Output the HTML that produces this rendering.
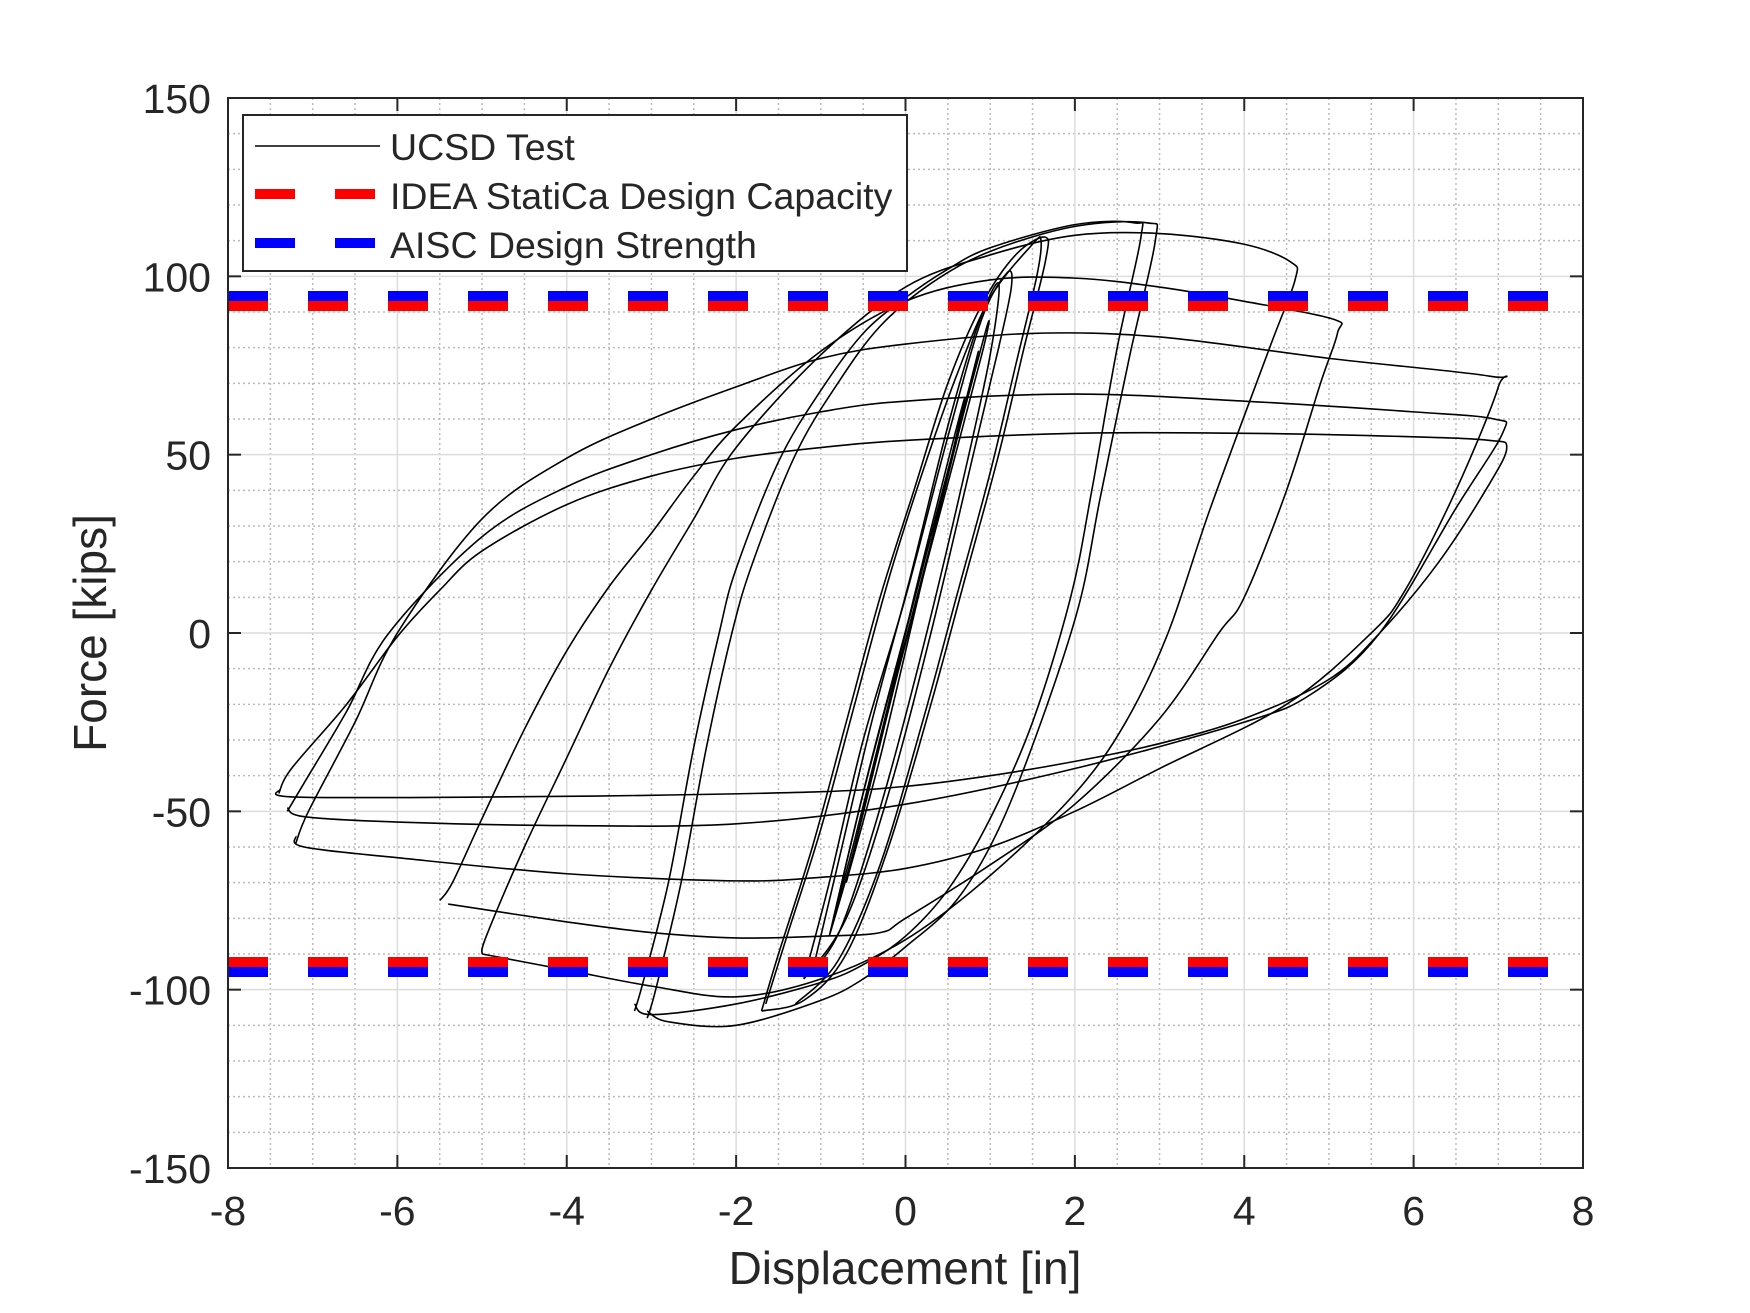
<!DOCTYPE html>
<html><head><meta charset="utf-8"><style>
html,body{margin:0;padding:0;background:#fff;}
svg{display:block;}
text{font-family:"Liberation Sans",Arial,sans-serif;fill:#262626;}
</style></head><body>
<svg id="s" width="1750" height="1313" viewBox="0 0 1750 1313" xmlns="http://www.w3.org/2000/svg">
<rect width="1750" height="1313" fill="#fff"/>
<g id="grid"></g>
<g id="data" fill="none" stroke="#000" stroke-width="1.6" stroke-linejoin="round"></g>
<g id="dash"></g>
<rect x="228" y="98" width="1355" height="1070" fill="none" stroke="#262626" stroke-width="2"/>
<g id="ticks"></g>
<g id="labels" font-size="41"></g>
<text x="905" y="1284" font-size="46" text-anchor="middle">Displacement [in]</text>
<text transform="translate(106,633) rotate(-90)" font-size="46" text-anchor="middle">Force [kips]</text>
<g>
<rect x="243" y="115" width="664" height="156" fill="#fff" stroke="#262626" stroke-width="2"/>
<line x1="255" y1="146" x2="380" y2="146" stroke="#000" stroke-width="1.6"/>
<rect x="255" y="189" width="40" height="10" fill="#f00"/><rect x="335" y="189" width="40" height="10" fill="#f00"/>
<rect x="255" y="238" width="40" height="10" fill="#00f"/><rect x="335" y="238" width="40" height="10" fill="#00f"/>
<text x="390" y="160" font-size="37.5">UCSD Test</text>
<text x="390" y="209" font-size="37.5">IDEA StatiCa Design Capacity</text>
<text x="390" y="258" font-size="37.5">AISC Design Strength</text>
</g>
</svg>
<script>
var NS="http://www.w3.org/2000/svg";
function el(p,t,a){var e=document.createElementNS(NS,t);for(var k in a)e.setAttribute(k,a[k]);p.appendChild(e);return e;}
var L=228,R=1583,T=98,B=1168;
function X(x){return 905.5+x*84.6875;}
function Y(y){return 633-y*3.5667;}
var g=document.getElementById('grid');
for(var x=-8;x<=8;x+=0.5){if(x%2!==0)el(g,'line',{x1:X(x),x2:X(x),y1:T,y2:B,stroke:'#bbb','stroke-width':1.5,'stroke-dasharray':'2 3'});}
for(var y=-150;y<=150;y+=10){if(y%50!==0)el(g,'line',{x1:L,x2:R,y1:Y(y),y2:Y(y),stroke:'#bbb','stroke-width':1.5,'stroke-dasharray':'2 3'});}
for(var x=-8;x<=8;x+=2)el(g,'line',{x1:X(x),x2:X(x),y1:T,y2:B,stroke:'#dcdcdc','stroke-width':1.5});
for(var y=-150;y<=150;y+=50)el(g,'line',{x1:L,x2:R,y1:Y(y),y2:Y(y),stroke:'#dcdcdc','stroke-width':1.5});
var tk=document.getElementById('ticks'),lb=document.getElementById('labels');
for(var x=-8;x<=8;x+=2){el(tk,'line',{x1:X(x),x2:X(x),y1:B,y2:B-13,stroke:'#262626','stroke-width':2});el(tk,'line',{x1:X(x),x2:X(x),y1:T,y2:T+13,stroke:'#262626','stroke-width':2});
var t=el(lb,'text',{x:X(x),y:1225,'text-anchor':'middle'});t.textContent=x;}
for(var y=-150;y<=150;y+=50){el(tk,'line',{x1:L,x2:L+13,y1:Y(y),y2:Y(y),stroke:'#262626','stroke-width':2});el(tk,'line',{x1:R,x2:R-13,y1:Y(y),y2:Y(y),stroke:'#262626','stroke-width':2});
var t=el(lb,'text',{x:211,y:Y(y)+15,'text-anchor':'end'});t.textContent=y;}
var d=document.getElementById('dash');
for(var x=228;x<1583;x+=80){var w=Math.min(40,1583-x);
el(d,'rect',{x:x,y:291,width:w,height:10,fill:'#00f'});el(d,'rect',{x:x,y:301,width:w,height:10,fill:'#f00'});
el(d,'rect',{x:x,y:957,width:w,height:10,fill:'#f00'});el(d,'rect',{x:x,y:967,width:w,height:10,fill:'#00f'});}
function path(pts){var p=pts.map(function(a){return [X(a[0]),Y(a[1])];});var s='M'+p[0][0]+','+p[0][1];
for(var i=0;i<p.length-1;i++){var p0=p[i-1]||p[i],p1=p[i],p2=p[i+1],p3=p[i+2]||p2;
s+=' C'+(p1[0]+(p2[0]-p0[0])/6)+','+(p1[1]+(p2[1]-p0[1])/6)+' '+(p2[0]-(p3[0]-p1[0])/6)+','+(p2[1]-(p3[1]-p1[1])/6)+' '+p2[0]+','+p2[1];}
el(document.getElementById('data'),'path',{d:s});}
var loops=[
[[-7.4,-45],[-7.25,-38],[-6.6,-20],[-6,-1],[-5.5,12],[-5,23],[-4,36],[-3,44],[-2,49],[-1,52],[0,54],[2,56],[4,56],[6,55],[6.9,54],[7.1,52],[6.9,42],[6.3,20],[5.6,0],[5,-13],[4,-24],[3,-31],[2,-36],[1,-40],[0,-43],[-1,-44.5],[-3,-45.5],[-5,-46],[-7.2,-46],[-7.4,-44]],
[[-7.3,-50],[-7.1,-42],[-6.6,-22],[-6.1,0],[-5,27],[-4,41],[-3,50],[-2,57],[-1,62],[0,65],[2,67],[4,65],[6,62],[6.95,60],[7.05,56],[6.5,35],[5.6,0],[4.8,-17],[4,-25],[2,-38],[0,-48],[-2,-53.5],[-4,-54],[-6,-53],[-7.1,-51.5],[-7.3,-49]],
[[-7.2,-59],[-7.05,-50],[-6.5,-25],[-6,0],[-5,32],[-4,49],[-3,60],[-2,69],[-1,77],[0,81],[1.5,84],[3,83],[5,77],[6.9,72],[7,69],[6.5,40],[5.9,12],[5.5,0],[4.5,-20],[3,-38],[2,-50],[1,-60],[0,-66],[-1,-68.5],[-2,-69.5],[-4,-67.5],[-6,-63],[-7.1,-60],[-7.2,-57]],
[[-5.5,-75],[-5.35,-70],[-5,-52],[-4.5,-27],[-4,-5],[-3.5,13],[-3,28],[-2.5,44],[-2,58],[-1,79],[0,93],[1,99],[2,99.5],[3,97],[4,93],[5.05,88],[5.1,84],[4.9,70],[4.5,40],[4,10],[3.7,0],[3,-24],[2,-48],[1,-65],[0,-80],[-0.3,-84],[-1,-85],[-2,-85.5],[-3,-84],[-4,-81],[-5.4,-76]],
[[-5,-90],[-4.95,-85],[-4.5,-60],[-4,-35],[-3.5,-10],[-3,12],[-2.5,32],[-2,52],[-1,78],[0,97],[1,106],[2,111.5],[3,112],[4,109],[4.55,104],[4.6,99],[4.3,80],[3.6,35],[3.1,0],[2.6,-25],[2,-45],[1,-68],[0,-86],[-1,-97],[-2,-102],[-3,-99],[-4,-94.5],[-5,-90]],
[[-3.2,-106],[-3.1,-98],[-2.8,-70],[-2.5,-32],[-2.2,0],[-2,18],[-1.5,48],[-1,68],[-0.5,84],[0,94],[0.5,102],[1,108],[2,114.5],[2.7,115],[2.78,111],[2.5,80],[2.2,40],[1.95,10],[1.5,-25],[1,-52],[0.5,-72],[0,-85],[-0.5,-93],[-1,-98],[-2,-104],[-3,-107],[-3.2,-104]],
[[-3.05,-108],[-2.95,-100],[-2.65,-70],[-2.35,-32],[-2.05,0],[-1.8,20],[-1.3,50],[-0.8,70],[-0.3,86],[0.3,98],[1,107],[2,114],[2.85,115],[2.95,110],[2.65,78],[2.3,38],[2.05,8],[1.6,-25],[1.1,-55],[0.6,-75],[0,-88],[-0.5,-97],[-1,-103],[-2,-110],[-2.8,-109],[-3.05,-106]],
[[-1.7,-106],[-1.5,-90],[-1.1,-60],[-0.7,-25],[-0.3,10],[0.1,40],[0.5,70],[0.9,92],[1.3,106],[1.65,111],[1.65,104],[1.4,80],[1.1,50],[0.7,15],[0.3,-20],[-0.2,-60],[-0.7,-90],[-1.2,-103],[-1.7,-106]],
[[-1.65,-104],[-1.4,-85],[-1,-55],[-0.6,-20],[-0.2,15],[0.2,45],[0.6,72],[1,94],[1.5,109],[1.6,110],[1.55,100],[1.3,75],[1,45],[0.6,10],[0.2,-25],[-0.3,-65],[-0.8,-92],[-1.3,-104]],
[[-1.2,-97],[-0.9,-70],[-0.5,-30],[0,10],[0.5,55],[0.9,88],[1.2,101],[1.25,97],[1.1,80],[0.8,50],[0.3,0],[-0.2,-45],[-0.7,-80],[-1.2,-97]],
[[-1.1,-95],[-0.8,-65],[-0.4,-25],[0.05,15],[0.5,58],[0.85,86],[1.1,98],[1.0,78],[0.7,45],[0.25,0],[-0.25,-45],[-0.75,-82],[-1.1,-95]],
[[-0.9,-85],[-0.5,-45],[0,0],[0.5,45],[0.95,85],[0.9,78],[0.4,33],[-0.1,-12],[-0.6,-60],[-0.9,-85]],
[[-0.85,-80],[-0.45,-40],[0.05,5],[0.55,50],[0.85,78],[0.75,68],[0.3,25],[-0.2,-20],[-0.6,-58],[-0.85,-80]],
[[-0.7,-70],[-0.3,-30],[0.1,10],[0.5,48],[0.7,66],[0.55,50],[0.15,10],[-0.3,-35],[-0.7,-70]]
];
loops.forEach(path);
</script>
</body></html>
